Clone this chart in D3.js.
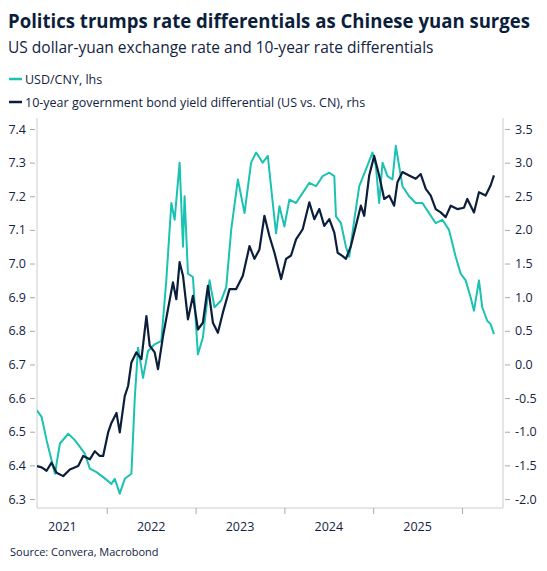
<!DOCTYPE html>
<html lang="en">
<head>
<meta charset="UTF-8" />
<title>Politics trumps rate differentials</title>
<script src="https://d3js.org/d3.v7.min.js"></script>
<style>
  body { margin: 0; background: white; font-family: "Open Sans", "Noto Sans", sans-serif; }
  svg { display: block; }
</style>
</head>
<body>
<svg width="547" height="571"></svg>
<script>
// decimal years and values
const cnyT = [2021.21,2021.266,2021.322,2021.378,2021.416,2021.472,2021.566,2021.64,2021.697,2021.753,2021.809,2021.884,2021.959,2022.052,2022.09,2022.146,2022.202,2022.277,2022.315,2022.352,2022.408,2022.464,2022.539,2022.614,2022.67,2022.727,2022.764,2022.82,2022.858,2022.876,2022.914,2022.97,2023.026,2023.082,2023.157,2023.213,2023.288,2023.345,2023.401,2023.476,2023.551,2023.625,2023.682,2023.756,2023.813,2023.869,2023.906,2023.944,2024.0,2024.056,2024.131,2024.206,2024.281,2024.356,2024.431,2024.506,2024.562,2024.581,2024.637,2024.693,2024.73,2024.787,2024.843,2024.918,2024.992,2025.03,2025.067,2025.105,2025.161,2025.217,2025.255,2025.292,2025.33,2025.404,2025.479,2025.554,2025.629,2025.704,2025.779,2025.854,2025.929,2025.985,2026.041,2026.097,2026.135,2026.191,2026.228,2026.284,2026.322,2026.36];
const cnyV = [6.564,6.544,6.475,6.415,6.375,6.465,6.494,6.475,6.455,6.435,6.39,6.38,6.365,6.345,6.36,6.316,6.36,6.375,6.60,6.75,6.66,6.74,6.76,6.77,6.95,7.18,7.13,7.30,7.05,7.20,6.97,6.96,6.73,6.78,6.95,6.87,6.89,6.93,7.10,7.25,7.15,7.30,7.33,7.30,7.32,7.18,7.09,7.17,7.11,7.19,7.18,7.21,7.24,7.23,7.26,7.27,7.26,7.14,7.12,7.05,7.02,7.13,7.23,7.28,7.33,7.29,7.18,7.30,7.26,7.25,7.35,7.29,7.23,7.20,7.18,7.18,7.15,7.12,7.13,7.10,7.02,6.97,6.95,6.90,6.86,6.95,6.87,6.83,6.82,6.79];

const diffT = [2021.21,2021.266,2021.322,2021.378,2021.434,2021.509,2021.584,2021.678,2021.734,2021.809,2021.865,2021.921,2021.959,2022.015,2022.052,2022.109,2022.146,2022.202,2022.24,2022.277,2022.333,2022.39,2022.446,2022.483,2022.539,2022.577,2022.633,2022.689,2022.745,2022.783,2022.82,2022.858,2022.914,2022.97,2023.026,2023.082,2023.139,2023.195,2023.251,2023.307,2023.382,2023.457,2023.532,2023.607,2023.663,2023.719,2023.775,2023.831,2023.888,2023.963,2024.019,2024.075,2024.131,2024.206,2024.281,2024.337,2024.393,2024.449,2024.506,2024.562,2024.6,2024.656,2024.693,2024.749,2024.805,2024.861,2024.899,2024.955,2025.011,2025.067,2025.124,2025.18,2025.236,2025.273,2025.33,2025.404,2025.479,2025.535,2025.592,2025.648,2025.704,2025.76,2025.816,2025.873,2025.947,2026.022,2026.06,2026.135,2026.191,2026.266,2026.322,2026.36];
const diffV = [-1.51,-1.53,-1.58,-1.46,-1.61,-1.66,-1.56,-1.51,-1.36,-1.41,-1.29,-1.36,-1.36,-1.01,-0.87,-0.72,-1.01,-0.47,-0.32,0.03,0.18,0.08,0.72,0.28,0.18,-0.07,0.42,0.82,1.22,0.97,1.52,1.32,0.67,1.02,0.52,0.62,1.17,0.62,0.47,0.77,1.12,1.12,1.32,1.76,1.57,1.71,2.21,1.91,1.66,1.27,1.57,1.62,1.86,2.01,2.41,2.16,2.31,2.06,2.16,1.96,1.66,1.61,1.57,1.76,2.06,2.36,2.21,2.81,3.10,2.81,2.46,2.51,2.36,2.71,2.86,2.81,2.76,2.83,2.61,2.51,2.31,2.26,2.19,2.36,2.31,2.33,2.46,2.26,2.56,2.51,2.66,2.81];

const yearLabels = ['2021','2022','2023','2024','2025'];
const yearTicks = [2022, 2023, 2024, 2025, 2026];
const leftTicks = [6.3,6.4,6.5,6.6,6.7,6.8,6.9,7.0,7.1,7.2,7.3,7.4];
const rightTicks = [-2.0,-1.5,-1.0,-0.5,0.0,0.5,1.0,1.5,2.0,2.5,3.0,3.5];

const teal = '#1cc2b1', navy = '#0b1e3c', grey = '#cccccc', ink = '#13233f';
const plotL = 37, plotR = 503, plotT = 118, plotB = 508;

const svg = d3.select('svg');

const x = d3.scaleLinear().domain([2021, 2026]).range([18, 462]);
const yL = d3.scaleLinear().domain([6.3, 7.4]).range([499, 129]);
const yR = d3.scaleLinear().domain([-2.0, 3.5]).range([499, 129]);

// titles
svg.append('text').attr('x', 8).attr('y', 28)
  .attr('font-size', 19.5).attr('font-weight', 700).attr('fill', navy)
  .attr('textLength', 522).attr('lengthAdjust', 'spacingAndGlyphs')
  .text('Politics trumps rate differentials as Chinese yuan surges');
svg.append('text').attr('x', 8).attr('y', 53)
  .attr('font-size', 15.5).attr('fill', ink)
  .text('US dollar-yuan exchange rate and 10-year rate differentials');

// legend
const legend = [['USD/CNY, lhs', teal], ['10-year government bond yield differential (US vs. CN), rhs', navy]];
legend.forEach(([label, c], i) => {
  const ly = 79 + i * 23;
  svg.append('line').attr('x1', 9).attr('x2', 22).attr('y1', ly).attr('y2', ly)
    .attr('stroke', c).attr('stroke-width', 2.5);
  svg.append('text').attr('x', 25).attr('y', ly + 4.5)
    .attr('font-size', 12.5).attr('fill', ink).text(label);
});

// frame
svg.append('path')
  .attr('d', `M${plotL},${plotT}V${plotB}H${plotR}V${plotT}`)
  .attr('fill', 'none').attr('stroke', grey).attr('stroke-width', 1);

// axes
const fmt = d => d3.format('.1f')(d).replace('−', '-');
const gl = svg.append('g').attr('transform', `translate(${plotL - 2},0)`)
  .call(d3.axisLeft(yL).tickValues(leftTicks).tickFormat(fmt).tickSize(5).tickPadding(4));
const gr = svg.append('g').attr('transform', `translate(${plotR + 2},0)`)
  .call(d3.axisRight(yR).tickValues(rightTicks).tickFormat(fmt).tickSize(5).tickPadding(5));
const gb = svg.append('g').attr('transform', `translate(0,${plotB})`)
  .call(d3.axisBottom(x).tickValues(yearTicks).tickFormat('').tickSize(6));
[gl, gr, gb].forEach(g => {
  g.select('.domain').remove();
  g.selectAll('line').attr('stroke', '#aaaaaa');
  g.selectAll('text').attr('fill', ink).attr('font-size', 12.5)
    .attr('font-family', '"Open Sans", "Noto Sans", sans-serif');
});

svg.append('g').selectAll('text').data(yearLabels).join('text')
  .attr('x', d => x(+d + 0.5)).attr('y', 531)
  .attr('text-anchor', 'middle').attr('font-size', 12.5).attr('fill', ink)
  .text(d => d);

// lines
svg.append('clipPath').attr('id', 'plot').append('rect')
  .attr('x', plotL).attr('y', plotT).attr('width', plotR - plotL).attr('height', plotB - plotT);

const lineL = d3.line().x(d => x(d[0])).y(d => yL(d[1]));
const lineR = d3.line().x(d => x(d[0])).y(d => yR(d[1]));

svg.append('path').datum(d3.zip(cnyT, cnyV))
  .attr('fill', 'none').attr('stroke', teal).attr('stroke-width', 2)
  .attr('stroke-linejoin', 'round').attr('clip-path', 'url(#plot)').attr('d', lineL);
svg.append('path').datum(d3.zip(diffT, diffV))
  .attr('fill', 'none').attr('stroke', navy).attr('stroke-width', 2.2)
  .attr('stroke-linejoin', 'round').attr('clip-path', 'url(#plot)').attr('d', lineR);

// source
svg.append('text').attr('x', 10).attr('y', 556)
  .attr('font-size', 11).attr('fill', ink).text('Source: Convera, Macrobond');
</script>
</body>
</html>
